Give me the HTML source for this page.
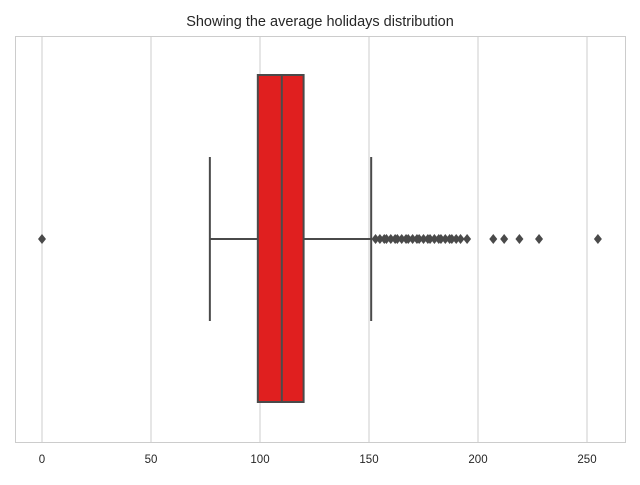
<!DOCTYPE html>
<html><head><meta charset="utf-8"><style>
body{margin:0;background:#fff;font-family:"Liberation Sans",sans-serif}
</style></head><body>
<svg id="c" width="640" height="480" xmlns="http://www.w3.org/2000/svg">
<text x="320" y="26" text-anchor="middle" font-size="14.5" fill="#262626">Showing the average holidays distribution</text>
<g id="grid"></g>
<g id="plot"></g>
<rect x="15.5" y="36.5" width="610" height="406" fill="none" stroke="#ccc" stroke-width="1"/>
<g id="ticks"></g>
</svg>
<script>
const tickValues=[0,50,100,150,200,250];
const q1=99, median=110, q3=120, whiskerLow=77, whiskerHigh=151;
const outliers=[0,153,155,157,158,160,162,163,165,167,168,170,172,173,175,177,178,180,182,183,185,187,188,190,192,195,207,212,219,228,255];
const NS="http://www.w3.org/2000/svg";
const xs=v=>42+v*2.18;
const yc=239, boxTop=75, boxBot=402;
function mk(tag,attrs,parent){const e=document.createElementNS(NS,tag);for(const k in attrs)e.setAttribute(k,attrs[k]);document.getElementById(parent).appendChild(e);return e;}
tickValues.forEach(t=>{
 const l=mk('line',{x1:xs(t),x2:xs(t),y1:36,y2:443,stroke:'#ccc','stroke-width':1},'grid');
 
 
 const tx=mk('text',{x:xs(t),y:463,'text-anchor':'middle','font-size':11.5,fill:'#262626'},'ticks');
 tx.textContent=t;
 
 
});
const c='#4a4a4a';
let e;
e=mk('line',{x1:xs(whiskerLow),x2:xs(q1),y1:yc,y2:yc,stroke:c,'stroke-width':2},'plot');


e=mk('line',{x1:xs(q3),x2:xs(whiskerHigh),y1:yc,y2:yc,stroke:c,'stroke-width':2},'plot');


e=mk('line',{x1:xs(whiskerLow),x2:xs(whiskerLow),y1:157,y2:321,stroke:c,'stroke-width':2},'plot');


e=mk('line',{x1:xs(whiskerHigh),x2:xs(whiskerHigh),y1:157,y2:321,stroke:c,'stroke-width':2},'plot');


e=mk('rect',{x:xs(q1),y:boxTop,width:xs(q3)-xs(q1),height:boxBot-boxTop,fill:'#e01f1f',stroke:c,'stroke-width':2},'plot');


e=mk('line',{x1:xs(median),x2:xs(median),y1:boxTop,y2:boxBot,stroke:c,'stroke-width':2},'plot');


outliers.forEach(v=>{
 const px=xs(v);
 const p=mk('polygon',{points:`${px},${yc-5} ${px+4},${yc} ${px},${yc+5} ${px-4},${yc}`,fill:c},'plot');
 
 
});
</script>
</body></html>
